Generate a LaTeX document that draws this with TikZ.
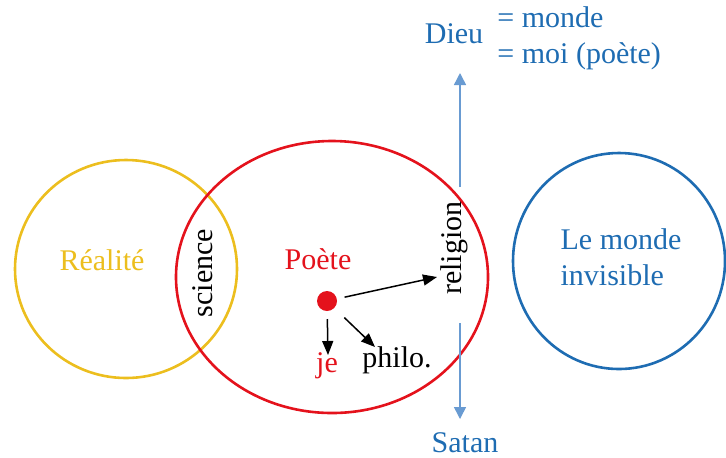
\documentclass[tikz,border=0pt]{standalone}
\usepackage{fontspec}
\setmainfont{Liberation Serif}
\usetikzlibrary{arrows.meta}
\definecolor{gold}{RGB}{236,190,30}
\definecolor{rouge}{RGB}{228,18,28}
\definecolor{bleu}{RGB}{30,108,178}
\definecolor{ciel}{RGB}{105,155,210}

\begin{document}
\begin{tikzpicture}[x=0.5pt,y=-0.5pt]
        \tikzstyle{ring}=[line width=1.3pt]
        \tikzstyle{txt}=[inner sep=0pt, font=\fontsize{15}{18}\selectfont]
        \tikzstyle{fleche}=[-{Triangle[length=7pt,width=5.5pt]}, line width=0.75pt]
        \tikzstyle{axe}=[-{Triangle[length=6pt,width=6pt]}, ciel, line width=0.75pt]

        \useasboundingbox (0,0) rectangle (726,457);

        \draw[ring, gold]  (126,269) ellipse [x radius=55.5pt, y radius=54.5pt];
        \draw[ring, rouge] (332,277) ellipse [x radius=78pt, y radius=68pt];
        \draw[ring, bleu]  (619,261) ellipse [x radius=53pt, y radius=54pt];

        \node[txt, gold] (realite) at (102,260) {Réalité};
        \node[txt, rotate=90] (science) at (203,273) {science};
        \node[txt, rouge] (poete) at (318,259) {Poète};
        \node[txt, bleu, align=left] (invisible) at (621,257) {Le monde\\invisible};
        \node[circle, fill=rouge, minimum size=10pt, inner sep=0pt, outer sep=4pt] (dot) at (327,301) {};
        \node[txt, rouge] (je) at (327,366) {je};
        \node[txt] (philo) at (397,360) {philo.};
        \node[txt, rotate=90] (religion) at (454,248) {religion};

        \node[txt, bleu] (dieu) at (454,34) {Dieu};
        \node[txt, bleu, align=left, anchor=west] (egal) at (497,38) {= monde\\= moi (poète)};
        \node[txt, bleu] (satan) at (465,443) {Satan};

        \coordinate (relIn) at (437,277);
        \coordinate (jeTip) at (328,355);
        \coordinate (philoTip) at (375,347);
        \coordinate (axeHaut) at (460,187);
        \coordinate (axeBas) at (460,323);
        \coordinate (dieuTip) at (460,73);
        \coordinate (satanTip) at (460,419);

        \draw[fleche] (dot) -- (relIn);
        \draw[fleche] (dot) -- (jeTip);
        \draw[fleche, shorten <=3pt] (dot) -- (philoTip);
        \draw[axe] (axeHaut) -- (dieuTip);
        \draw[axe] (axeBas) -- (satanTip);
    \end{tikzpicture}
\end{document}
